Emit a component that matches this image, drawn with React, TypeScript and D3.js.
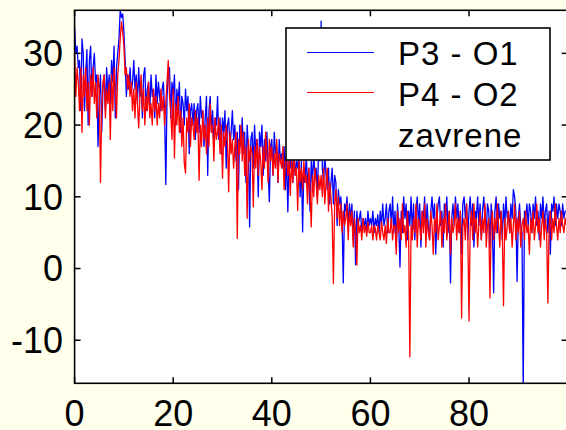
import React from "react";
import * as d3 from "d3";

// frequency step of the spectrum (Hz)
const STEP = 0.25;

const xTicks = [0, 20, 40, 60, 80];
const yTicks = [-10, 0, 10, 20, 30];
const seriesNames = ["P3 - O1", "P4 - O2"];
const legendNote = "zavrene";
const seriesColors = ["#0000ff", "#ff0000"];

// P3 - O1 (blue), 4 values per Hz
const p3o1 = [
  33.5, 30, 31, 28, 29, 22, 32, 30, 22, 27, 30.5, 20, 29, 31, 24, 28,
  30, 26, 27, 17, 24, 27, 19, 25, 27, 22, 28, 24, 27, 23, 29, 26,
  31, 21, 28, 30, 32, 36, 35, 35.5, 33, 29, 24, 27, 25, 28, 24.5, 26,
  29, 25, 27, 23, 28, 24, 26, 21, 27, 28, 22, 25, 26, 22, 27, 24,
  25, 21, 27, 23, 26, 24, 22, 25, 26, 22, 11.7, 24, 27, 28, 21, 26,
  24, 27, 20, 25, 23, 26, 19, 24, 23, 20, 25, 22, 24, 16, 22, 23,
  20, 23, 18, 22, 23, 19, 24, 21, 22, 17, 21, 24, 13, 22, 24, 19,
  22, 17, 21, 20, 24, 18, 21, 16, 21, 19, 22, 14, 20, 21, 17, 19,
  22, 18, 20, 15, 19, 11, 20, 17, 21, 16, 19, 12, 20, 17, 5.8, 18,
  19, 14, 20, 16, 18, 10, 19, 17, 20, 13, 18, 15, 19, 14, 9.3, 17,
  18, 13, 19, 16, 17, 12, 18, 15, 16, 14, 17, 11, 16, 7.9, 15, 14,
  17, 12, 16, 13, 15, 14, 16, 10, 15, 5.1, 14, 12, 16, 11, 14, 8,
  15, 12, 16, 13, 14, 10, 17, 15, 34.5, 14, 12, 16, 13, 11, 14, 9,
  12, 14, 9, 13, 12, 6, 11, 9, 10, 7, -2, 9, 8, 10, 6, 9,
  7, 9, 4, 8, 0.5, 8, 6, 7, 8, 5, 7, 6, 7, 5, 8, 6,
  7, 6, 8, 5, 7, 6, 7.5, 5, 8, 6, 9, 6, 7, 9, 5, 8,
  9, 6, 10, 5, 8, 3, 9, 6, 0.2, 8, 5, 10, 7, 9, 4, 8,
  6, 10, 5, 9, 4, 8, 10, 6, 9, 3, 8, 7, 10, 5, 9, 6,
  4, 8, 10, 7, 9, 2, 7, 9, 10, 6, 8, 3, 9, 7, 10, 5,
  8, -2, 7, 9, 6, 10, 7, 9, 5, 8, 2, 9, 10, 7, 9, 4,
  8, 10, 6, 9, 3, 8, 7, 10, 6, 9, 4, 8, 10, 7, 5, 9,
  8, 3, 9, 6, -3.4, 8, 10, 5, 9, 7, 8, 4, 9, 6, 10, 7,
  8, 5, 9, 7, 11, 10, 8, -1.8, 7, 9, 6, 5, -17, 8, 7, 9,
  6, 9, 8, 5, 9, 7, 10, 6, 8, 4, 9, 7, 10, 6, 8, 9,
  5, 8, 2, 9, 8, 10, 6, 9, 7, 9, 8, 6, 9, 7, 8, 8,
];

// P4 - O2 (red), 4 values per Hz
const p4o2 = [
  30, 24, 28, 26, 22, 28, 19, 27, 24, 28, 22, 26, 20, 27, 24, 28,
  23, 26, 21, 27, 25, 12, 22, 26, 27, 21, 25, 23, 26, 18, 27, 22,
  28, 25, 21, 27, 29, 32, 34.4, 33, 31, 27, 28, 25, 27, 24, 26, 22,
  25, 21, 26, 23, 19.6, 24, 27, 22, 25, 20, 24, 22, 26, 21, 23, 20,
  25, 22, 24, 20, 23, 21, 25, 22, 24, 20, 23, 26, 29, 24, 22, 18,
  25, 15.4, 23, 20, 24, 19, 22, 17, 21, 14.7, 13.3, 21, 19, 23, 17, 21,
  20, 18, 22, 19, 21, 12.3, 20, 17, 22, 18, 20, 16, 21, 17, 23, 19,
  20, 15, 21, 18, 19, 21, 16, 20, 12.6, 19, 17, 20, 18, 10.7, 19, 16,
  18, 14, 17, 19, 4.2, 18, 16, 20, 15, 19, 13, 17, 7, 18, 15, 17,
  16, 8.6, 17, 14, 18, 13, 17, 15, 11, 17, 14, 19, 16, 12, 18, 15,
  17, 13, 16, 14, 18, 12, 16, 15, 14, 17, 11, 15, 16, 13, 15, 10.2,
  15, 12, 16, 13, 14, 8.1, 15, 12, 14, 11, 15, 12, 13, 9, 14, 11,
  5.8, 13, 10, 14, 12, 9, 13, 11, 13, 10, 14, 9, 12, 14, 8, 12,
  10, 7, -2.1, 9, 11, 7, 10, 6, 9, 5, 8, 6, 7, 9, 4, 8,
  6, 8, 3, 7, 5, 0.5, 7, 5, 6, 4, 7, 5, 6, 4.5, 6.5, 5,
  5, 6, 4, 6, 5.5, 4, 6, 5, 4, 6.5, 5, 4, 6, 3.5, 7, 5,
  5, 7, 4, 6, 6, 2, 8, 5, 7, 4, 9, 5, 6, 3, 8, 5,
  -12.3, 6, 4, 7, 5, 9, 3, 7, 6, 4, 8, 5, 9, 3, 7, 5,
  4, 8, 6, 2, 7, 5, 9, 4, 6, 8, 3, 7, 5, 9, 4, 6,
  8, 2, 7, 5, 6, 9, 4, 7, 5, 8, -6.9, 6, 7, 4, 9, 5,
  -7.3, 6, 8, 4, 9, 5, 7, 3, 6, 8, 4, 7, 5, 9, 3, 6,
  7, -4.1, 6, 8, 4, 7, 5, 9, 6, 3, 8, 5, -5.2, 7, 4, 6,
  8, 5, 7, 3, 6, 9, 4, 7, 5, 8, 3, 6, 7, 4, 8, 5,
  6, 2, 7, 5, 8, 4, 6, 9, 5, 7, 3, 6, 8, 4, 7, 5,
  -4.8, 6, 8, 4, 7, 5, 9, 6, 4, 7, 5, 8, 6, 5, 7, 6,
];

const W = 566;
const H = 430;
const FONT = "'Liberation Sans', Arial, Helvetica, sans-serif";

export default function App() {
  const left = 74.6;
  const right = 567.6;
  const top = 10.3;
  const bottom = 383.3;

  const x = d3.scaleLinear().domain([0, 100]).range([left, right]);
  const y = d3.scaleLinear().domain([-16, 36]).range([bottom, top]);

  const line = d3
    .line<number>()
    .x((_, i) => x(i * STEP))
    .y((d) => y(d));

  const series = [p3o1, p4o2];
  const tickLen = 6;

  const legend = { x0: 286, y0: 28, x1: 550, y1: 160 };

  return (
    <svg
      width={W}
      height={H}
      style={{ position: "absolute", left: 0, top: 0, display: "block" }}
    >
      <rect x={0} y={0} width={W} height={H} fill="#ffffec" />
      <defs>
        <clipPath id="plotClip">
          <rect x={left} y={top} width={right - left} height={bottom - top} />
        </clipPath>
      </defs>
      <rect x={left} y={top} width={right - left} height={bottom - top} fill="#ffffff" />

      <g clipPath="url(#plotClip)">
        {series.map((s, k) => (
          <path
            key={k}
            d={line(s) || ""}
            fill="none"
            stroke={seriesColors[k]}
            strokeWidth={1.3}
            strokeLinejoin="round"
          />
        ))}
      </g>

      {/* ticks */}
      <g stroke="#000" strokeWidth={1.5}>
        {xTicks.map((t) => (
          <g key={"xt" + t}>
            <line x1={x(t)} x2={x(t)} y1={bottom} y2={bottom - tickLen} />
            <line x1={x(t)} x2={x(t)} y1={top} y2={top + tickLen} />
          </g>
        ))}
        {yTicks.map((t) => (
          <g key={"yt" + t}>
            <line x1={left} x2={left + tickLen} y1={y(t)} y2={y(t)} />
            <line x1={right} x2={right - tickLen} y1={y(t)} y2={y(t)} />
          </g>
        ))}
      </g>

      {/* frame */}
      <rect
        x={left}
        y={top}
        width={right - left}
        height={bottom - top}
        fill="none"
        stroke="#000"
        strokeWidth={1.6}
      />

      {/* tick labels */}
      <g fontFamily={FONT} fontSize={36} fill="#000">
        {yTicks.map((t) => (
          <text key={"yl" + t} x={63} y={y(t)} dy="0.355em" textAnchor="end">
            {t}
          </text>
        ))}
        {xTicks.map((t) => (
          <text key={"xl" + t} x={x(t)} y={426} textAnchor="middle">
            {t}
          </text>
        ))}
      </g>

      {/* legend */}
      <rect
        x={legend.x0}
        y={legend.y0}
        width={legend.x1 - legend.x0}
        height={legend.y1 - legend.y0}
        fill="#ffffff"
        stroke="#000"
        strokeWidth={1.6}
      />
      {seriesNames.map((n, k) => (
        <g key={n}>
          <line
            x1={307}
            x2={374}
            y1={52.5 + k * 40}
            y2={52.5 + k * 40}
            stroke={seriesColors[k]}
            strokeWidth={1.1}
          />
          <text
            x={398}
            y={65 + k * 41}
            fontFamily={FONT}
            fontSize={33}
            letterSpacing={1}
            fill="#000"
          >
            {n}
          </text>
        </g>
      ))}
      <text x={398} y={147} fontFamily={FONT} fontSize={33} letterSpacing={1} fill="#000">
        {legendNote}
      </text>
    </svg>
  );
}
